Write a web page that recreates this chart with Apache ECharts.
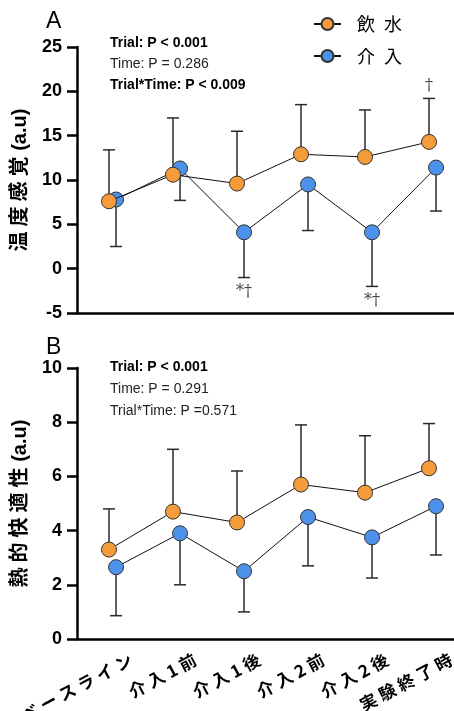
<!DOCTYPE html>
<html lang="ja">
<head>
    <meta charset="UTF-8">
    <title>温度感覚・熱的快適性</title>
    <style>
        html, body { margin: 0; padding: 0; background: #fff; }
        #main { width: 454px; height: 711px; }
    </style>
    <script src="https://cdn.jsdelivr.net/npm/echarts@6/dist/echarts.min.js"></script>
</head>
<body>
    <div id="main"></div>
    <script type="text/javascript">
        // 時点
        var categories = ['ベースライン', '介入1前', '介入1後', '介入2前', '介入2後', '実験終了時'];
        var seriesNames = ['飲水', '介入'];

        // A: 温度感覚 (平均, 誤差棒の端)
        var thermalWater = [7.6, 10.6, 9.6, 12.9, 12.6, 14.3];
        var thermalWaterHi = [13.4, 17.0, 15.5, 18.5, 17.9, 19.2];
        var thermalInt = [7.8, 11.3, 4.1, 9.5, 4.1, 11.4];
        var thermalIntLo = [2.5, 7.7, -1.0, 4.3, -2.0, 6.5];
        var thermalTicks = [-5, 25, 5];   // min, max, interval

        // B: 熱的快適性
        var comfortWater = [3.3, 4.7, 4.3, 5.7, 5.4, 6.3];
        var comfortWaterHi = [4.8, 7.0, 6.2, 7.9, 7.5, 7.95];
        var comfortInt = [2.65, 3.9, 2.5, 4.5, 3.75, 4.9];
        var comfortIntLo = [0.86, 2.0, 1.0, 2.7, 2.25, 3.1];
        var comfortTicks = [0, 10, 2];

        // 有意差の記号 (A のみ)
        var thermalMarks = [
            { idx: 2, text: '*†', series: 1 },
            { idx: 4, text: '*†', series: 1 },
            { idx: 5, text: '†', series: 0 }
        ];

        var ORANGE = '#F59B3A';
        var BLUE = '#4C91EA';
        var DODGE = 0.11;   // 介入の点を少し右へずらす
        var FONT = '"Liberation Sans", "Noto Sans CJK JP", sans-serif';

        var chart = echarts.init(document.getElementById('main'));

        function spaced(s) {
            return s.split('').join('\u2005');
        }

        function legendSpaced(s) {
            return s.split('').join('\u2002');
        }

        // 軸タイトル: 漢字の部分だけ字間をあける
        function axisTitle(jp, unit) {
            return spaced(jp) + ' ' + unit;
        }

        function pts(vals, dx) {
            return vals.map(function (v, i) { return [i + dx, v]; });
        }

        function errorSeries(means, ends, dx, xi, yi) {
            return {
                type: 'custom',
                xAxisIndex: xi,
                yAxisIndex: yi,
                z: 2,
                silent: true,
                data: means.map(function (m, i) { return [i + dx, m, ends[i]]; }),
                renderItem: function (params, api) {
                    var p0 = api.coord([api.value(0), api.value(1)]);
                    var p1 = api.coord([api.value(0), api.value(2)]);
                    var st = { stroke: '#2a2a2a', lineWidth: 1.5 };
                    return {
                        type: 'group',
                        children: [
                            { type: 'line', shape: { x1: p0[0], y1: p0[1], x2: p1[0], y2: p1[1] }, style: st },
                            { type: 'line', shape: { x1: p1[0] - 6, y1: p1[1], x2: p1[0] + 6, y2: p1[1] }, style: st }
                        ]
                    };
                }
            };
        }

        function lineSeries(name, vals, dx, color, z, xi, yi) {
            return {
                name: name,
                type: 'line',
                xAxisIndex: xi,
                yAxisIndex: yi,
                z: z,
                data: pts(vals, dx),
                symbol: 'circle',
                symbolSize: 15,
                lineStyle: { color: '#111', width: 1 },
                itemStyle: { color: color, borderColor: '#333', borderWidth: 1 }
            };
        }

        function markSeries(marks, xi, yi) {
            var ends = [thermalWaterHi, thermalIntLo];
            return {
                type: 'custom',
                xAxisIndex: xi,
                yAxisIndex: yi,
                z: 5,
                silent: true,
                data: marks.map(function (m) {
                    return [m.idx + (m.series === 1 ? DODGE : 0), ends[m.series][m.idx]];
                }),
                renderItem: function (params, api) {
                    var m = marks[params.dataIndex];
                    var p = api.coord([api.value(0), api.value(1)]);
                    var below = m.series === 1;
                    return {
                        type: 'text',
                        style: {
                            text: m.text,
                            x: p[0],
                            y: p[1] + (below ? 14 : -13),
                            align: 'center',
                            verticalAlign: 'middle',
                            font: '16px "DejaVu Serif", serif',
                            fill: '#444'
                        }
                    };
                }
            };
        }

        function catAxis(gi, showLabel) {
            return {
                type: 'category',
                gridIndex: gi,
                data: categories,
                boundaryGap: true,
                axisLine: { onZero: false, lineStyle: { color: '#000', width: 2.5 } },
                axisTick: { alignWithLabel: true, length: 10, lineStyle: { color: '#000', width: 2.5 } },
                axisLabel: {
                    show: showLabel,
                    rotate: 28,
                    margin: 31,
                    interval: 0,
                    padding: [0, -25, 0, 0],
                    color: '#000',
                    fontSize: 17,
                    fontWeight: 'bold',
                    fontFamily: '"Noto Sans CJK JP", sans-serif',
                    formatter: spaced
                },
                splitLine: { show: false }
            };
        }

        function posAxis(gi) {
            return { type: 'value', gridIndex: gi, min: -0.5, max: categories.length - 0.5, show: false };
        }

        function valAxis(gi, ticks, name) {
            return {
                type: 'value',
                gridIndex: gi,
                min: ticks[0],
                max: ticks[1],
                interval: ticks[2],
                name: name,
                nameLocation: 'middle',
                nameGap: 47,
                nameTextStyle: { color: '#000', fontSize: 20, fontWeight: 'bold', fontFamily: FONT },
                axisLine: { show: true, onZero: false, lineStyle: { color: '#000', width: 2.5 } },
                axisTick: { show: true, length: 10, lineStyle: { color: '#000', width: 2.5 } },
                axisLabel: { margin: 15, color: '#000', fontSize: 18, fontWeight: 'bold', fontFamily: FONT },
                splitLine: { show: false }
            };
        }

        function statText(x, y, txt, bold) {
            return {
                type: 'text',
                left: x,
                top: y - 9,
                style: {
                    text: txt,
                    font: (bold ? 'bold ' : '') + '14px ' + FONT,
                    fill: bold ? '#000' : '#222'
                }
            };
        }

        var option = {
            animation: false,
            backgroundColor: '#fff',
            grid: [
                { left: 77, right: -7, top: 47, height: 266, outerBoundsMode: 'none', containLabel: false },
                { left: 77, right: -7, top: 368, height: 271, outerBoundsMode: 'none', containLabel: false }
            ],
            legend: {
                data: seriesNames,
                orient: 'vertical',
                left: 308,
                top: 10,
                itemWidth: 27,
                itemHeight: 15,
                itemGap: 14,
                formatter: legendSpaced,
                textStyle: { fontSize: 18, color: '#000', padding: [0, 0, 0, 11], fontFamily: '"Noto Sans CJK JP", sans-serif' }
            },
            xAxis: [catAxis(0, false), posAxis(0), catAxis(1, true), posAxis(1)],
            yAxis: [
                valAxis(0, thermalTicks, axisTitle('温度感覚', '(a.u)')),
                valAxis(1, comfortTicks, axisTitle('熱的快適性', '(a.u)'))
            ],
            graphic: [
                { type: 'text', left: 46, top: 10, style: { text: 'A', font: '23px ' + FONT, fill: '#000' } },
                { type: 'text', left: 46, top: 336, style: { text: 'B', font: '23px ' + FONT, fill: '#000' } },
                statText(110, 45, 'Trial: P < 0.001', true),
                statText(110, 66, 'Time: P = 0.286', false),
                statText(110, 87, 'Trial*Time: P < 0.009', true),
                statText(110, 369, 'Trial: P < 0.001', true),
                statText(110, 391, 'Time: P = 0.291', false),
                statText(110, 413, 'Trial*Time: P =0.571', false)
            ],
            series: [
                errorSeries(thermalWater, thermalWaterHi, 0, 1, 0),
                errorSeries(thermalInt, thermalIntLo, DODGE, 1, 0),
                lineSeries(seriesNames[1], thermalInt, DODGE, BLUE, 3, 1, 0),
                lineSeries(seriesNames[0], thermalWater, 0, ORANGE, 4, 1, 0),
                markSeries(thermalMarks, 1, 0),
                errorSeries(comfortWater, comfortWaterHi, 0, 3, 1),
                errorSeries(comfortInt, comfortIntLo, DODGE, 3, 1),
                lineSeries(seriesNames[1], comfortInt, DODGE, BLUE, 3, 3, 1),
                lineSeries(seriesNames[0], comfortWater, 0, ORANGE, 4, 3, 1)
            ]
        };

        chart.setOption(option);
    </script>
</body>
</html>
